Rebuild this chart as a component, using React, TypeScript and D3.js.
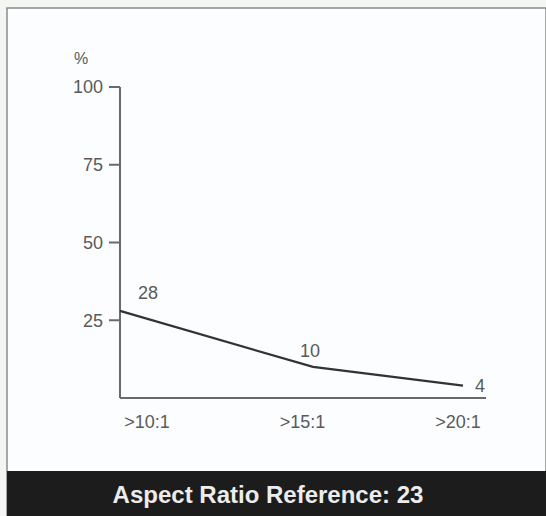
import React from "react";
import * as d3 from "d3";

const categories = [">10:1", ">15:1", ">20:1"];
const values = [28, 10, 4];
const valueLabels = ["28", "10", "4"];
const yTicks = [25, 50, 75, 100];
const yUnit = "%";
const title = "Aspect Ratio Reference: 23";

const W = 546;
const H = 516;

export default function App() {
  const y = d3.scaleLinear().domain([0, 100]).range([398, 87]);
  // label positions along x axis
  const xLab = d3.scalePoint<string>().domain(categories).range([147, 458]);
  // line vertex positions (piecewise by category index)
  const xLine = d3.scaleLinear().domain([0, 1, 2]).range([120, 313, 463]);
  const line = d3
    .line<number>()
    .x((_, i) => xLine(i))
    .y((d) => y(d));
  const font = "'Liberation Sans', Arial, Helvetica, sans-serif";
  const textCol = "#5a5a5a";
  const axisCol = "#6a6a6a";
  const labelDx = [28, -3, 17];
  const labelDy = [-12, -10, 6];

  return (
    <svg
      width={W}
      height={H}
      style={{ position: "absolute", left: 0, top: 0, display: "block" }}
      fontFamily={font}
    >
      <rect x={0} y={0} width={W} height={H} fill="#f4f6f4" />
      <rect x={7} y={8} width={W - 7} height={H - 8} fill="#fbfdfe" stroke="#8a8a8a" strokeWidth={1.5} />
      {/* axes */}
      <line x1={120} x2={120} y1={y(100)} y2={y(0)} stroke={axisCol} strokeWidth={2} />
      <line x1={120} x2={486} y1={y(0)} y2={y(0)} stroke={axisCol} strokeWidth={2} />
      {yTicks.map((t) => (
        <g key={t}>
          <line x1={109} x2={120} y1={y(t)} y2={y(t)} stroke={axisCol} strokeWidth={2} />
          <text x={103} y={y(t)} dy="0.36em" textAnchor="end" fontSize={18} fill={textCol}>
            {t}
          </text>
        </g>
      ))}
      <text x={81} y={64} textAnchor="middle" fontSize={16} fill={textCol}>
        {yUnit}
      </text>
      {categories.map((c) => (
        <text key={c} x={xLab(c)} y={428} textAnchor="middle" fontSize={18} fill={textCol}>
          {c}
        </text>
      ))}
      <path d={line(values) || ""} fill="none" stroke="#333" strokeWidth={2.2} />
      {values.map((v, i) => (
        <text
          key={i}
          x={xLine(i) + labelDx[i]}
          y={y(v) + labelDy[i]}
          textAnchor="middle"
          fontSize={18}
          fill={textCol}
        >
          {valueLabels[i]}
        </text>
      ))}
      <rect x={7} y={471} width={W - 7} height={H - 471} fill="#1b1c1b" />
      <text
        x={268}
        y={503}
        textAnchor="middle"
        fontSize={24}
        fontWeight="bold"
        fill="#ececec"
      >
        {title}
      </text>
    </svg>
  );
}
